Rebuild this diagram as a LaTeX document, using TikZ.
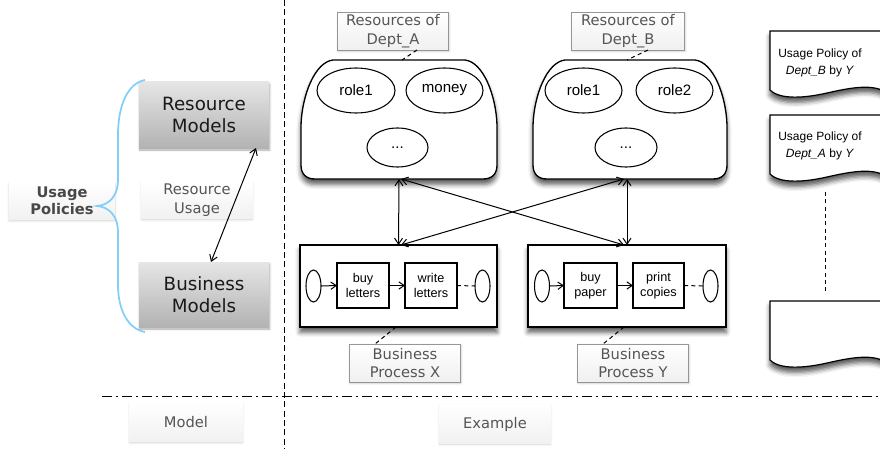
\documentclass[tikz,border=0pt]{standalone}
\usepackage{fontspec}
\setmainfont{DejaVu Sans}
\newfontfamily\hv{Liberation Sans}
\usetikzlibrary{arrows.meta,calc,shadows.blur,shapes.geometric}
\definecolor{lbltext}{RGB}{85,85,85}
\definecolor{lblborder}{RGB}{150,150,150}
\definecolor{bracecol}{RGB}{128,207,248}
\definecolor{uptext}{RGB}{72,72,72}
\newcommand\contpath[1]{%
 \draw[contst] ($(#1.north west)+(32,0)$) -- ($(#1.north east)+(-32,0)$)
  .. controls ($(#1.north east)+(-14,2)$) and ($(#1.north east)+(-1,35)$) .. ($(#1.north east)+(0,65)$)
  -- ($(#1.south east)+(0,-14)$) .. controls ($(#1.south east)+(0,-5)$) and ($(#1.south east)+(-5,0)$) .. ($(#1.south east)+(-14,0)$)
  -- ($(#1.south west)+(14,0)$) .. controls ($(#1.south west)+(5,0)$) and ($(#1.south west)+(0,-5)$) .. ($(#1.south west)+(0,-14)$)
  -- ($(#1.north west)+(0,65)$) .. controls ($(#1.north west)+(1,35)$) and ($(#1.north west)+(14,2)$) .. cycle;}
\newcommand\docpath[1]{%
 \draw[docst] (#1.north west) -- ($(#1.north west)+(114,0)$) -- ($(#1.north west)+(114,60)$)
  .. controls ($(#1.north west)+(100,53)$) and ($(#1.north west)+(79,57)$) .. ($(#1.north west)+(57,62)$)
  .. controls ($(#1.north west)+(35,67)$) and ($(#1.north west)+(10,69)$) .. ($(#1.north west)+(0,59)$) -- cycle;}
\begin{document}
\begin{tikzpicture}[x=0.75pt,y=-0.75pt,
 every node/.style={inner sep=0pt, outer sep=0pt, align=center},
 gbox/.style={rectangle, top color=gray!20, bottom color=gray!60, minimum width=97.5pt, text=black!90,
   font=\fontsize{13.7}{16.5}\selectfont,
   blur shadow={shadow xshift=0.5pt, shadow yshift=-1.5pt, shadow blur radius=1.5pt, shadow opacity=35}},
 flabel/.style={rectangle, top color=white, bottom color=gray!11, text=lbltext,
   font=\fontsize{11}{14}\selectfont,
   blur shadow={shadow xshift=0pt, shadow yshift=-1pt, shadow blur radius=1.5pt, shadow opacity=18}},
 rlabel/.style={rectangle, draw=lblborder, line width=0.7pt, top color=white, bottom color=gray!12, text=lbltext,
   font=\fontsize{11}{14}\selectfont, minimum width=83.25pt, minimum height=28.5pt,
   blur shadow={shadow xshift=0.5pt, shadow yshift=-1pt, shadow blur radius=1.5pt, shadow opacity=20}},
 contbox/.style={rectangle, draw=none, minimum height=89.25pt},
 contst/.style={draw=black, line width=1pt, fill=white,
   blur shadow={shadow xshift=0pt, shadow yshift=-4pt, shadow blur radius=3.5pt, shadow opacity=65}},
 role/.style={ellipse, draw, line width=0.8pt, fill=white, font=\hv\fontsize{11.3}{13}\selectfont},
 pbox/.style={rectangle, draw, line width=1.1pt, fill=white, minimum height=61.5pt,
   blur shadow={shadow xshift=0pt, shadow yshift=-4pt, shadow blur radius=3.5pt, shadow opacity=65}},
 tbox/.style={rectangle, draw, line width=0.8pt, fill=white, minimum width=39pt, minimum height=33.75pt,
   font=\hv\fontsize{9.5}{11}\selectfont},
 sev/.style={ellipse, draw, line width=0.8pt, fill=white, minimum width=11.25pt, minimum height=24pt},
 docst/.style={draw, line width=0.9pt, fill=white,
   blur shadow={shadow xshift=0pt, shadow yshift=-4pt, shadow blur radius=3.5pt, shadow opacity=65}},
 dtext/.style={rectangle, minimum width=85.5pt, minimum height=48pt},
 doctxt/.style={font=\hv\fontsize{9}{12.5}\selectfont},
 biarrow/.style={{Straight Barb[length=4.5pt,width=6pt]}-{Straight Barb[length=4.5pt,width=6pt]}, line width=0.75pt},
 farrow/.style={-{Straight Barb[length=4pt,width=5.5pt]}, line width=0.75pt},
 dashln/.style={dash pattern=on 3pt off 2.5pt, line width=0.75pt},
]
\useasboundingbox (0,0) rectangle (880,449);

% separators
\draw[dash pattern=on 4.5pt off 2.5pt, line width=0.75pt] (284,0) -- (284,449);
\draw[dash pattern=on 7.5pt off 3pt on 1.5pt off 3pt, line width=0.75pt] (102,396) -- (880,396);

% model side
\node[flabel, minimum width=79.5pt, minimum height=27.75pt, text=uptext, font=\bfseries\fontsize{11}{13}\selectfont] (UP) at (62,201) {Usage\\Policies};
\node[gbox, minimum height=49.5pt] (RM) at (204,115) {Resource\\Models};
\node[gbox, minimum height=48.75pt] (BM) at (204,294.5) {Business\\Models};
\node[flabel, minimum width=83.25pt, minimum height=27.75pt] (RU) at (197,200) {Resource\\Usage};
\draw[bracecol, line width=1.3pt] (145,80) .. controls (128,83) and (118,105) .. (118,135) -- (118,180)
  .. controls (118,195) and (110,205) .. (97,206) .. controls (110,207) and (118,217) .. (118,232)
  -- (118,285) .. controls (118,310) and (128,329) .. (145,332);
\draw[biarrow] ($(RM.south east)+(-13,0)$) -- ($(BM.north)+(7,0)$);

\node[flabel, minimum width=84.75pt, minimum height=29.25pt] (MO) at (186,422) {Model};
\node[flabel, minimum width=83.25pt, minimum height=28.5pt] (EX) at (495,424) {Example};

% resource containers
\node[contbox, minimum width=147pt] (CA) at (399,119.5) {};
\contpath{CA}
\node[role, minimum width=58.5pt, minimum height=33.75pt] (A1) at (356,90.5) {role1};
\node[role, minimum width=57.75pt, minimum height=33.75pt] (A2) at (444.5,90.5) {money};
\node[role, minimum width=45.75pt, minimum height=29.25pt] (A3) at (397.5,147.5) {...};

\node[contbox, minimum width=145.5pt] (CB) at (630,119.5) {};
\contpath{CB}
\node[role, minimum width=57.75pt, minimum height=33.75pt] (B1) at (583.5,90.5) {role1};
\node[role, minimum width=57.75pt, minimum height=33.75pt] (B2) at (674.5,90.5) {role2};
\node[role, minimum width=46.5pt, minimum height=29.25pt] (B3) at (626,147.5) {...};

\node[rlabel] (LA) at (393,31) {Resources of\\Dept\_A};
\node[rlabel, minimum width=84.75pt] (LB) at (628,31) {Resources of\\Dept\_B};
\draw[dashln] ($(LA.south)+(24,0)$) -- ($(CA.north)+(3,0)$);
\draw[dashln] ($(LB.south)+(20,0)$) -- ($(CB.north)+(-3,0)$);

% processes
\node[pbox, minimum width=147.75pt] (PX) at (398.5,286) {};
\node[sev] (SX) at (313.5,286) {};
\node[tbox] (X1) at (363,285.5) {buy\\letters};
\node[tbox] (X2) at (431,285.5) {write\\letters};
\node[sev] (EXe) at (482.5,286) {};
\draw[farrow] (SX.east) -- (X1.west);
\draw[farrow] (X1.east) -- (X2.west);
\draw[dashln] (X2.east) -- (EXe.west);

\node[pbox, minimum width=148.5pt] (PY) at (627,286) {};
\node[sev] (SY) at (542,286) {};
\node[tbox, minimum width=39.75pt] (Y1) at (590.5,285.5) {buy\\paper};
\node[tbox, minimum width=38.25pt] (Y2) at (658.5,285.5) {print\\copies};
\node[sev] (EY) at (710.5,286) {};
\draw[farrow] (SY.east) -- (Y1.west);
\draw[farrow] (Y1.east) -- (Y2.west);
\draw[dashln] (Y2.east) -- (EY.west);

\node[rlabel] (BX) at (405,363) {Business\\Process X};
\node[rlabel] (BY) at (633,363) {Business\\Process Y};
\draw[dashln] ($(PX.south)+(-2.5,0)$) -- ($(BX.north)+(-30,0)$);
\draw[dashln] ($(PY.south)+(-3,0)$) -- ($(BY.north)+(-30,0)$);

% container <-> process arrows
\draw[biarrow] (CA.south) -- (PX.north);
\draw[biarrow] ($(CA.south)+(2,0)$) -- ($(PY.north)+(-3,0)$);
\draw[biarrow] ($(CB.south)+(-6,0)$) -- ($(PX.north)+(2.5,0)$);
\draw[biarrow] ($(CB.south)+(-3,0)$) -- (PY.north);

% policy documents
\node[dtext] (D1) at (827,63) {};
\docpath{D1}
\node[doctxt] (T1) at ($(D1.center)+(-7,0)$) {Usage Policy of\\\textit{Dept\_B} by \textit{Y}};
\node[dtext] (D2) at (827,147) {};
\docpath{D2}
\node[doctxt] (T2) at ($(D2.center)+(-7,-1)$) {Usage Policy of\\\textit{Dept\_A} by \textit{Y}};
\node[dtext] (D3) at (827,333) {};
\docpath{D3}
\coordinate (G1) at ($(D2.south)+(-2,13)$);
\coordinate (G2) at ($(D3.north)+(-2,-8)$);
\draw[dash pattern=on 3pt off 2.5pt, line width=0.75pt] (G1) -- (G2);
\end{tikzpicture}
\end{document}
